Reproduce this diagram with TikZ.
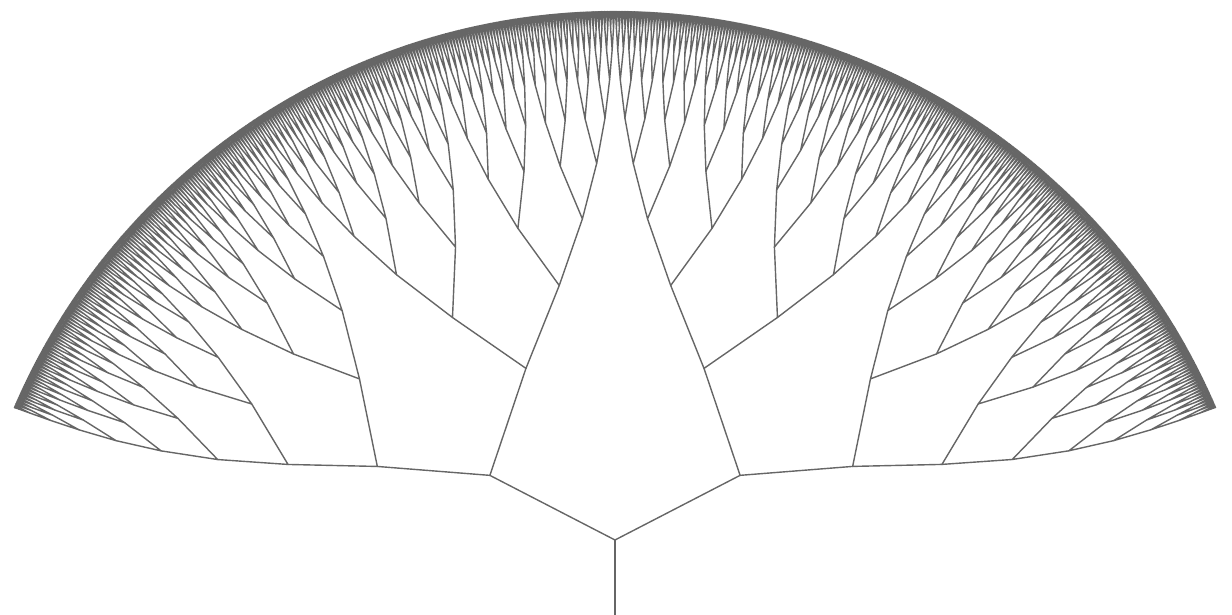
\documentclass[tikz,border=0pt]{standalone}
\definecolor{treegray}{RGB}{102,102,102}
\tikzset{branch/.style={draw=treegray, line width=1.4pt, line cap=round, line join=round}}
\begin{document}
\begin{tikzpicture}[x=1pt,y=1pt]
\useasboundingbox (0,0) rectangle (1232,615);
\begin{scope}[shift={(615,-50)}]
\def\A{66.8}
\pgfmathsetmacro\dA{2*\A/2047}
\coordinate (base) at (0,50);
\coordinate (root) at (90:125);
\draw[branch] (base) -- (root);
\foreach \k/\rp/\rc in {0/125/227.2,1/227.2/309.7,2/309.7/383.6,3/383.6/447.3,4/447.3/501.9,5/501.9/547,6/547/585.3,7/585.3/615.2,8/615.2/636.6,9/636.6/649.3,10/649.3/653.5}{
  \pgfmathtruncatemacro\nmax{2^\k-1}
  \pgfmathtruncatemacro\s{2^(11-\k)}
  \pgfmathtruncatemacro\sc{\s/2}
  \draw[branch] foreach \j in {0,...,\nmax}{
    ({90+\A-\dA*(\j*\s+(\s-1)/2)}:\rp) -- ({90+\A-\dA*(\j*\s+(\sc-1)/2)}:\rc)
    ({90+\A-\dA*(\j*\s+(\s-1)/2)}:\rp) -- ({90+\A-\dA*(\j*\s+\sc+(\sc-1)/2)}:\rc)
  };
}
\end{scope}
\end{tikzpicture}
\end{document}
